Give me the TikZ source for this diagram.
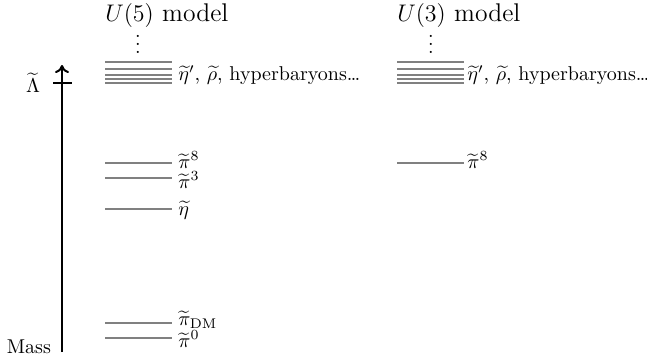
\documentclass[tikz,border=0pt]{standalone}
\usepackage{xcolor}
\usepackage{tikz}
\usetikzlibrary{arrows.meta}
\usetikzlibrary{calc,positioning}

\tikzset{
    level/.style={line width=1pt, gray},
    lbl/.style={anchor=west, inner sep=0pt},
    title/.style={anchor=west, inner sep=0pt, font=\fontsize{12.8}{15}\selectfont}
}

\begin{document}
\begin{tikzpicture}[x=0.5pt,y=-0.5pt]
    \useasboundingbox (0,0) rectangle (647,360);

    % As
    \coordinate (bottom) at (62,352);
    \coordinate (top) at (62,65);
    \draw[-{To[length=4pt,width=7pt]}, line width=1pt] (bottom) -- (top);
    \draw[line width=1pt] (53,83) -- (72,83);
    \node[anchor=east] (lambda) at (47,83) {$\widetilde{\Lambda}$};
    \node[anchor=east] (mass) at (58,347) {Mass};

    % U(5)
    \node[title] (u5) at (105,15) {$U(5)$ model};
    \node (dots5) at (138,38) {$\vdots$};
    \foreach \y in {62,68.5,75,79,83} {
        \draw[level] (105,\y) -- (172,\y);
    }
    \node[lbl] (heavy5) at (178,75) {$\widetilde{\eta}'$, $\widetilde{\rho}$, hyperbaryons\ldots};
    \draw[level] (105,163) -- (172,163);
    \node[lbl] (pi8) at (178,160) {$\widetilde{\pi}^8$};
    \draw[level] (105,178) -- (172,178);
    \node[lbl] (pi3) at (178,180) {$\widetilde{\pi}^3$};
    \draw[level] (105,209) -- (172,209);
    \node[lbl] (eta) at (178,210) {$\widetilde{\eta}$};
    \draw[level] (105,323) -- (172,323);
    \node[lbl] (pidm) at (178,320) {$\widetilde{\pi}_{\rm DM}$};
    \draw[level] (105,338) -- (172,338);
    \node[lbl] (pi0) at (178,339) {$\widetilde{\pi}^0$};

    % U(3)
    \node[title] (u3) at (397,15) {$U(3)$ model};
    \node (dots3) at (431,38) {$\vdots$};
    \foreach \y in {62,68.5,75,79,83} {
        \draw[level] (397,\y) -- (464,\y);
    }
    \node[lbl] (heavy3) at (467,75) {$\widetilde{\eta}'$, $\widetilde{\rho}$, hyperbaryons\ldots};
    \draw[level] (397,163) -- (464,163);
    \node[lbl] (pi8r) at (467,160) {$\widetilde{\pi}^8$};

\end{tikzpicture}
\end{document}
